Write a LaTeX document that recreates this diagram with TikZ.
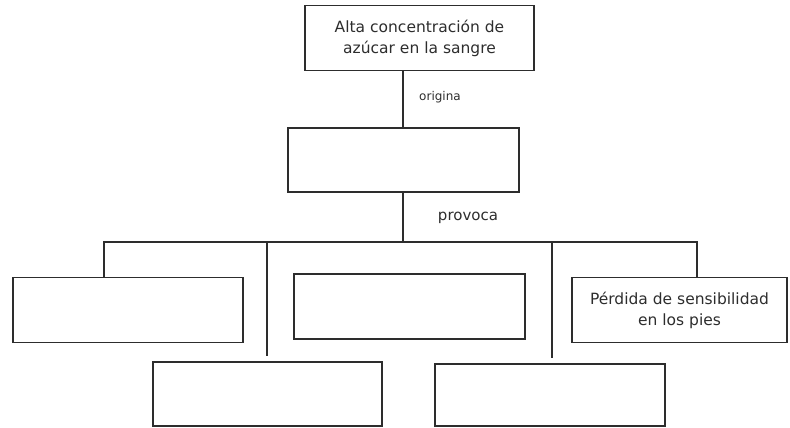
\documentclass[tikz,border=0pt]{standalone}
\usepackage{fontspec}
\setmainfont{DejaVu Sans}
\usetikzlibrary{positioning}
\definecolor{inkgray}{RGB}{45,45,45}

\begin{document}
\begin{tikzpicture}[x=1pt,y=-1pt,
        box/.style={rectangle,draw=inkgray,line width=1.5pt,minimum width=229pt,minimum height=65pt,
          inner sep=0pt,align=center,text=inkgray,font=\fontsize{15.5}{21}\selectfont},
        link/.style={draw=inkgray,line width=1.5pt},
        tag/.style={text=inkgray,font=\fontsize{12}{14}\selectfont}]
        \useasboundingbox (0,0) rectangle (790,428);
        \node[box] (cause) at (419.5,38) {Alta concentración de\\azúcar en la sangre};
        \node[box,minimum width=231pt,minimum height=64pt] (disease) at (403.5,160) {};
        \node[box,minimum width=230pt] (effA) at (128,310) {};
        \node[box,minimum width=231pt] (effB) at (409.5,306.5) {};
        \node[box,minimum width=215pt] (effC) at (679.5,310) {Pérdida de sensibilidad\\en los pies};
        \node[box,minimum height=64pt] (effD) at (267.5,394) {};
        \node[box,minimum width=230pt,minimum height=62pt] (effE) at (550,395) {};
        \node[tag] (origina) at (440,97) {origina};
        \node[tag,font=\fontsize{15}{17}\selectfont] (provoca) at (468,218) {provoca};
        % tree lines
        \coordinate (bar) at (403,242);
        \coordinate (barL) at (104,242);
        \coordinate (barR) at (697,242);
        \coordinate (dropD) at (267,356);
        \coordinate (dropE) at (552,358);
        \draw[link] (cause.south -| bar) -- (disease.north -| bar);
        \draw[link] (disease.south -| bar) -- (bar);
        \draw[link] (barL |- effA.north) -- (barL) -- (barR) -- (barR |- effC.north);
        \draw[link] (bar -| dropD) -- (dropD);
        \draw[link] (bar -| dropE) -- (dropE);
      \end{tikzpicture}
\end{document}
